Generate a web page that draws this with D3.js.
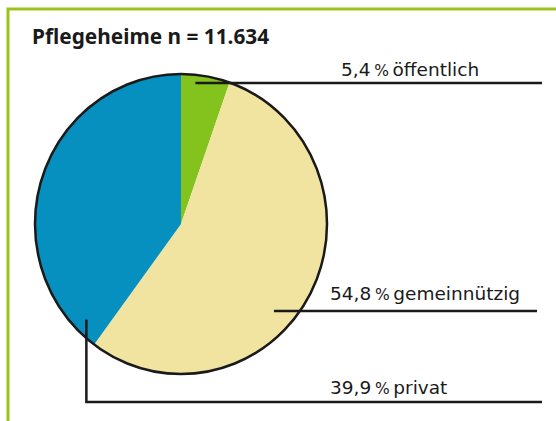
<!DOCTYPE html>
<html>
<head>
<meta charset="utf-8">
<script src="https://cdn.jsdelivr.net/npm/d3@7"></script>
<style>
  html, body { margin: 0; padding: 0; background: #fff; }
  svg { display: block; }
  text { font-family: "DejaVu Sans", sans-serif; fill: #1a1a1a; }
  text.title { font-family: "Noto Sans", sans-serif; }
</style>
</head>
<body>
<script>
// data
var title = "Pflegeheime n = 11.634";
var categories = ["öffentlich", "gemeinnützig", "privat"];
var shares = [5.4, 54.8, 39.9];
var colors = ["#84c21e", "#f1e4a1", "#0590bf"];

var width = 556, height = 421;
var cx = 181, cy = 224, rx = 146, ry = 150;

var svg = d3.select("body").append("svg")
  .attr("width", width)
  .attr("height", height);

// green frame (top + left)
svg.append("path")
  .attr("d", "M8,421 V9 H556")
  .attr("fill", "none")
  .attr("stroke", "#9dc31b")
  .attr("stroke-width", 3);

svg.append("text")
  .attr("class", "title")
  .attr("x", 32)
  .attr("y", 44)
  .attr("font-size", 20.8)
  .attr("font-weight", "bold")
  .text(title);

var pie = d3.pie().sort(null).value(function(d) { return d; });
var arcs = pie(shares);
var arc = d3.arc().innerRadius(0).outerRadius(rx);

// pie is a touch taller than wide in the reference
var g = svg.append("g")
  .attr("transform", "translate(" + cx + "," + cy + ") scale(1," + (ry / rx) + ")");

g.selectAll("path.slice")
  .data(arcs)
  .enter().append("path")
  .attr("class", "slice")
  .attr("d", arc)
  .attr("fill", function(d, i) { return colors[i]; });

g.append("circle")
  .attr("r", rx)
  .attr("fill", "none")
  .attr("stroke", "#1a1a1a")
  .attr("stroke-width", 2.5)
  .attr("vector-effect", "non-scaling-stroke");

// where each leader line starts: angle inside slice (fraction) and radius
var anchors = [
  {t: 0.31, r: 0.94},
  {t: 0.575, r: 0.867},
  {t: 0.063, r: 0.908}
];
// label layout: text x/baseline, line y and right end
var layout = [
  {tx: 341, ty: 76, ly: 83, x2: 542, elbow: false},
  {tx: 330, ty: 300, ly: 311, x2: 537, elbow: false},
  {tx: 330, ty: 394, ly: 402, x2: 542, elbow: true}
];

function fmt(v) {
  return v.toFixed(1).replace(".", ",");
}

arcs.forEach(function(d, i) {
  var a = d.startAngle + anchors[i].t * (d.endAngle - d.startAngle);
  var px = cx + Math.sin(a) * rx * anchors[i].r;
  var py = cy - Math.cos(a) * ry * anchors[i].r;
  var L = layout[i];
  var p;
  if (L.elbow) {
    p = "M" + px + "," + py + " V" + L.ly + " H" + L.x2;
  } else {
    p = "M" + px + "," + L.ly + " H" + L.x2;
  }
  svg.append("path")
    .attr("d", p)
    .attr("fill", "none")
    .attr("stroke", "#1a1a1a")
    .attr("stroke-width", 2.5);

  var t = svg.append("text")
    .attr("x", L.tx)
    .attr("y", L.ty)
    .attr("font-size", 18.5);
  t.append("tspan").text(fmt(shares[i]) + "\u2009");
  t.append("tspan").attr("font-size", 15.5).text("%");
  t.append("tspan").text("\u2009" + categories[i]);
});
</script>
</body>
</html>
